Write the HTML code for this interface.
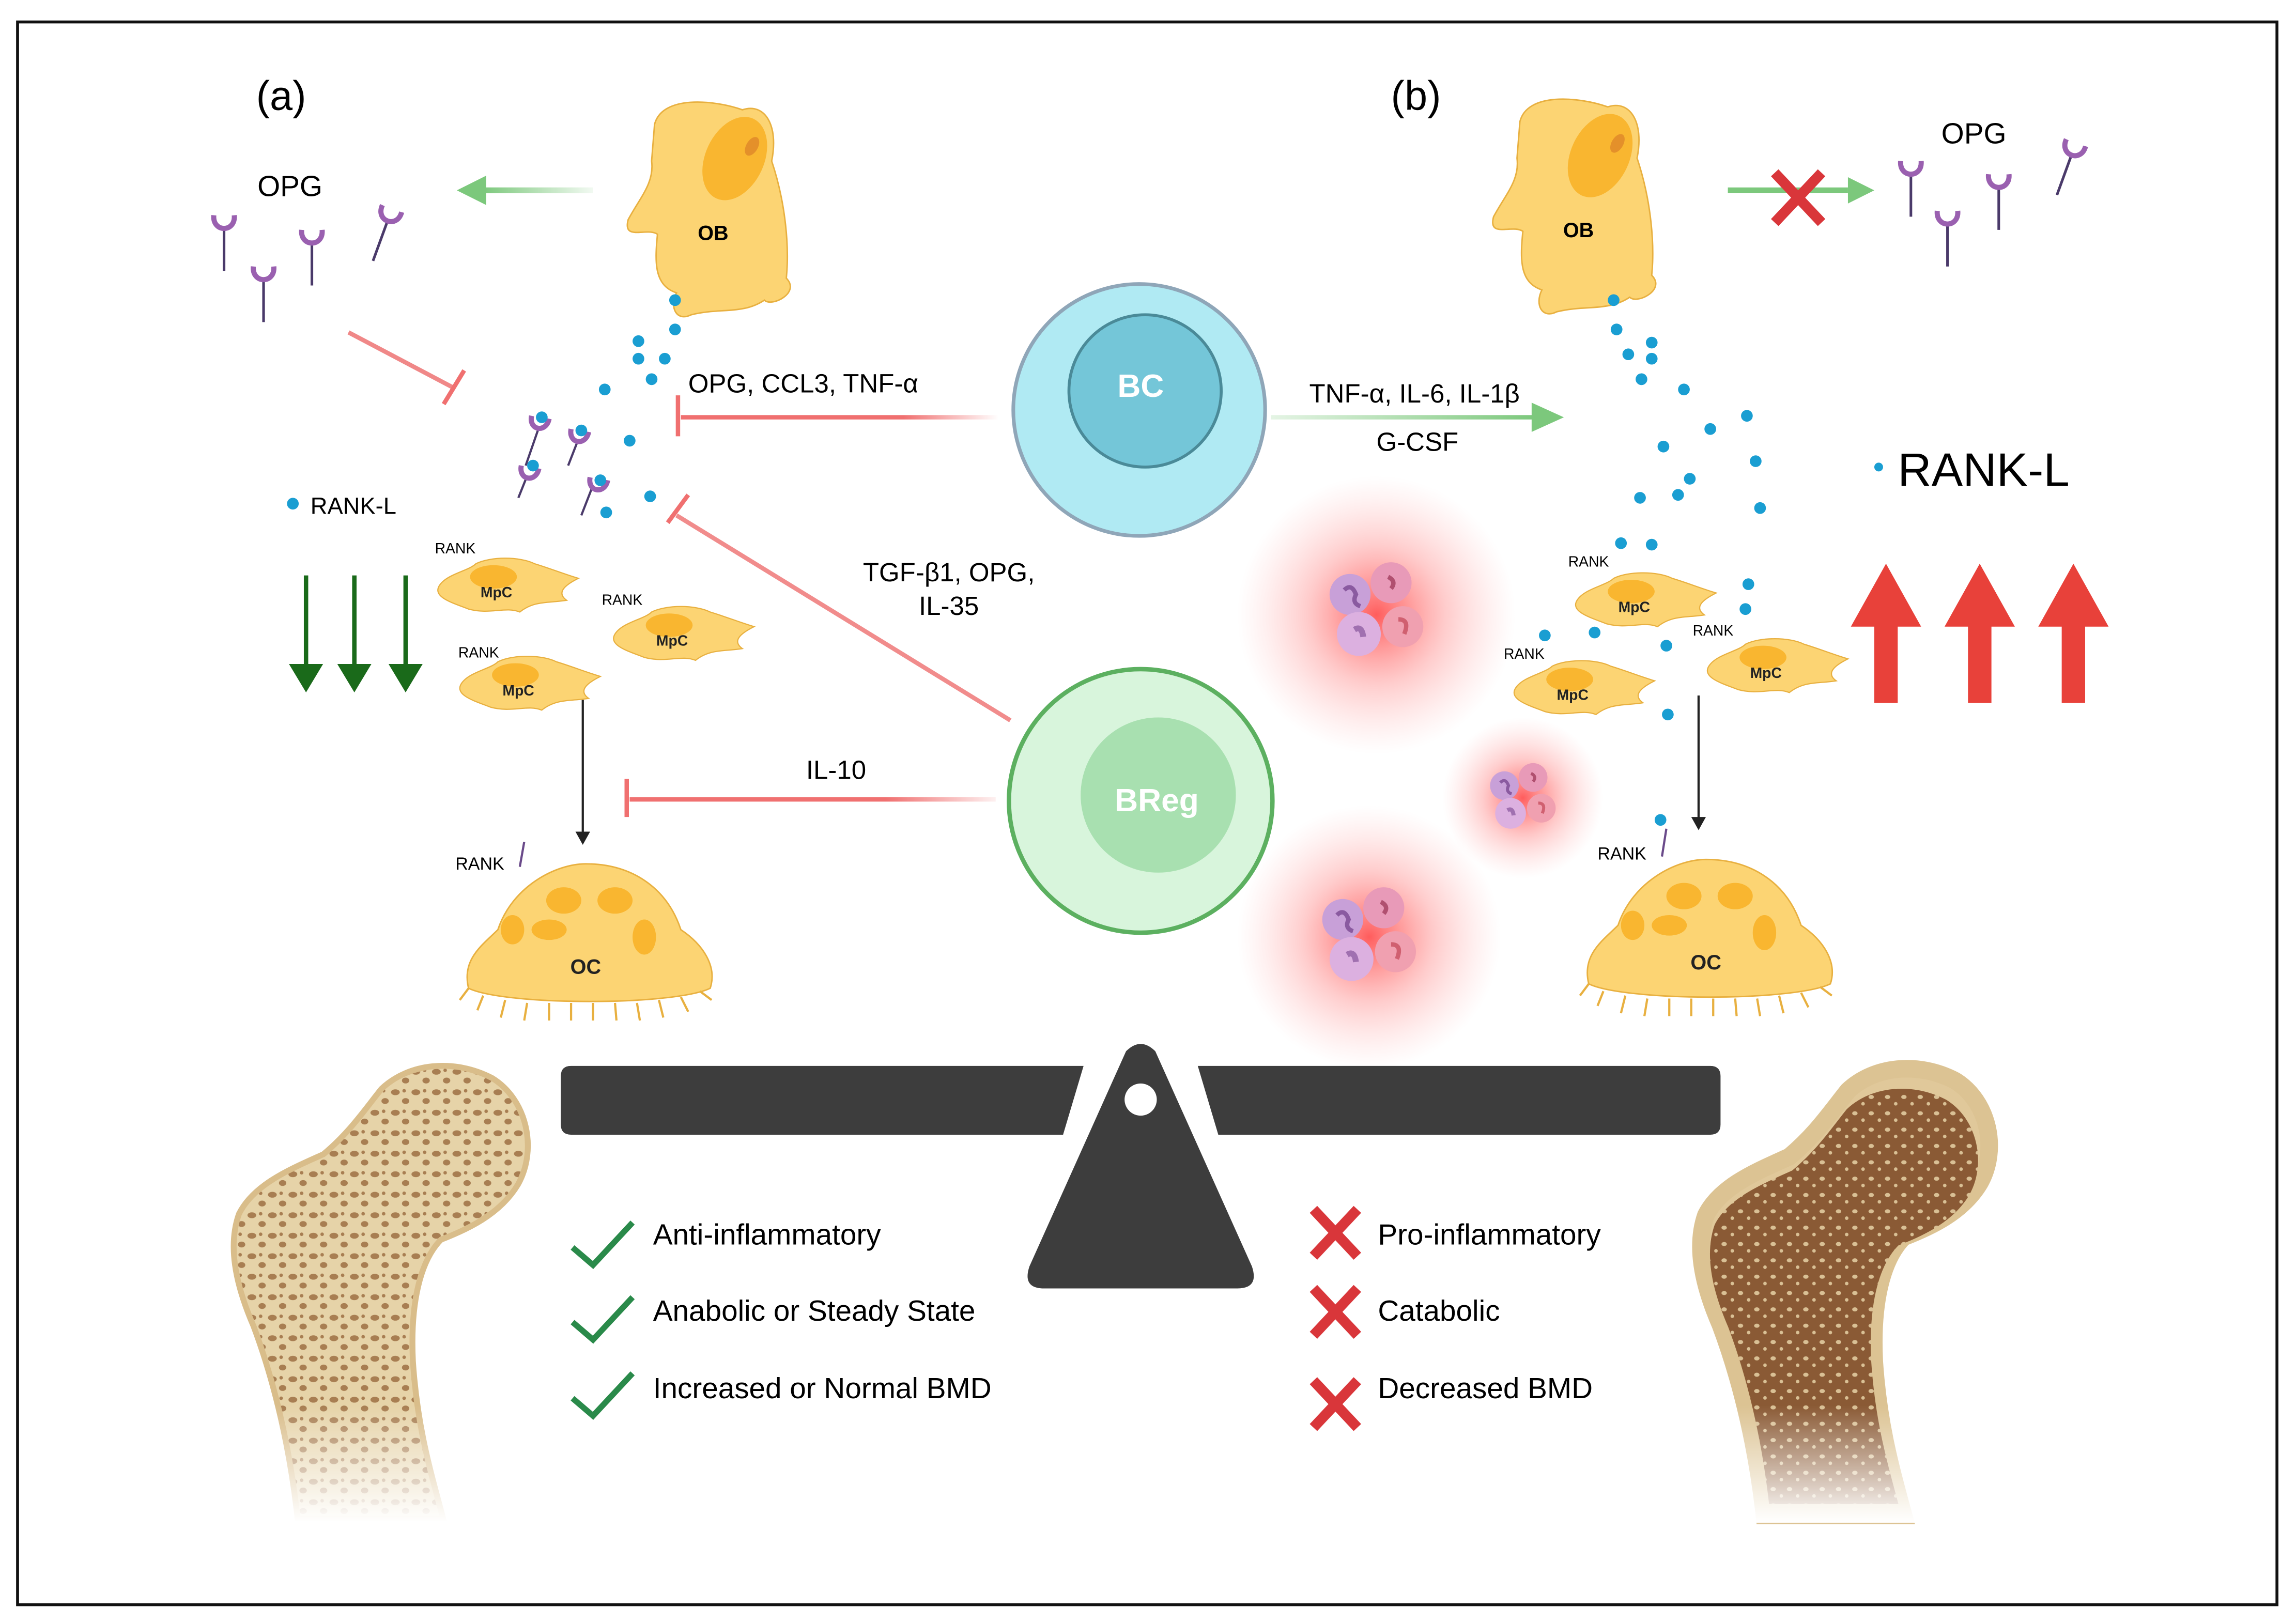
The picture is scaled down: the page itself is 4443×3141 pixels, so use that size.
<!DOCTYPE html>
<html><head><meta charset="utf-8"><style>
html,body{margin:0;padding:0;background:#fff}
svg{display:block}
text{font-family:"Liberation Sans",sans-serif}
</style></head><body>
<svg width="4443" height="3141" viewBox="0 0 1568 1108.5" xmlns="http://www.w3.org/2000/svg">
<defs>
<radialGradient id="glow"><stop offset="0" stop-color="#ff4040" stop-opacity="0.85"/><stop offset="0.5" stop-color="#ff8080" stop-opacity="0.4"/><stop offset="1" stop-color="#ffb0b0" stop-opacity="0"/></radialGradient>
<linearGradient id="redBC" gradientUnits="userSpaceOnUse" x1="465" y1="0" x2="682" y2="0"><stop offset="0" stop-color="#f07070"/><stop offset="0.7" stop-color="#f07070"/><stop offset="1" stop-color="#f07070" stop-opacity="0"/></linearGradient>
<linearGradient id="redIL" gradientUnits="userSpaceOnUse" x1="430" y1="0" x2="680" y2="0"><stop offset="0" stop-color="#f07070"/><stop offset="0.7" stop-color="#f07070"/><stop offset="1" stop-color="#f07070" stop-opacity="0.1"/></linearGradient>
<linearGradient id="grnOB" gradientUnits="userSpaceOnUse" x1="330" y1="0" x2="405" y2="0"><stop offset="0" stop-color="#7cc87c"/><stop offset="1" stop-color="#7cc87c" stop-opacity="0.1"/></linearGradient>
<linearGradient id="grnBC" gradientUnits="userSpaceOnUse" x1="868" y1="0" x2="1048" y2="0"><stop offset="0" stop-color="#7cc87c" stop-opacity="0.2"/><stop offset="1" stop-color="#7cc87c"/></linearGradient>
<linearGradient id="fade" x1="0" y1="0" x2="0" y2="1"><stop offset="0.75" stop-color="#fff" stop-opacity="0"/><stop offset="1" stop-color="#fff" stop-opacity="1"/></linearGradient>
<pattern id="spongeL" width="14" height="14" patternUnits="userSpaceOnUse"><rect width="14" height="14" fill="#e6d3a8"/><ellipse cx="4" cy="4" rx="3" ry="2" fill="#a87e52"/><ellipse cx="11" cy="10" rx="2.5" ry="2" fill="#a87e52"/><circle cx="10" cy="3" r="1.2" fill="#a87e52"/></pattern>
<pattern id="spongeR" width="12" height="12" patternUnits="userSpaceOnUse"><rect width="12" height="12" fill="#8a5a35"/><ellipse cx="4" cy="4" rx="2" ry="1.5" fill="#d9c095"/><circle cx="10" cy="9" r="1.3" fill="#d9c095"/></pattern>
<g id="ob"><path d="M-40,-55 C-35,-75 0,-72 20,-65 C35,-70 45,-55 40,-30 C50,0 52,30 50,50 C60,60 40,70 35,65 C20,75 5,70 -15,75 C-25,80 -30,70 -25,60 C-40,55 -40,40 -38,20 C-45,15 -62,25 -58,10 C-50,-5 -40,-15 -42,-30 Z" fill="#fcd473" stroke="#e8b040" stroke-width="1"/><ellipse cx="0" cy="-35" rx="20" ry="30" transform="rotate(25)" fill="#f9b630"/><ellipse cx="3" cy="-48" rx="4" ry="7" transform="rotate(30)" fill="#e4902a"/></g>
<g id="rec" fill="none"><path d="M0,0 L0,30" stroke="#4a3a6a" stroke-width="1.8"/><path d="M-7,-8 C-8,4 8,4 7,-8" stroke="#9a60b0" stroke-width="3.5"/></g>
<g id="mpc"><path d="M-45,0 C-40,-8 -25,-10 -20,-15 C-10,-20 10,-20 20,-15 C30,-12 40,-8 50,-5 C40,0 35,5 42,10 C30,12 20,10 10,18 C0,14 -10,20 -25,16 C-35,12 -50,8 -45,0 Z" fill="#fcd473" stroke="#e8b040" stroke-width="0.8"/><ellipse cx="-8" cy="-6" rx="16" ry="8" fill="#f9b630"/><text x="-6" y="8" font-size="10" font-weight="bold" text-anchor="middle" fill="#222">MpC</text></g>
<g id="oc"><path d="M-80,40 C-85,20 -70,10 -60,0 C-50,-30 -20,-45 0,-45 C30,-45 55,-30 65,0 C80,10 90,25 85,40 C60,52 -55,52 -80,40 Z" fill="#fcd473" stroke="#e8b040" stroke-width="1"/><g stroke="#e8b040" stroke-width="1.5" fill="none"><path d="M-80,40 l-6,8 M-70,45 l-4,10 M-55,48 l-3,12 M-40,50 l-2,12 M-25,50 l0,12 M-10,50 l0,12 M5,50 l0,12 M20,50 l1,12 M35,50 l2,12 M50,48 l3,12 M65,46 l5,10 M78,42 l8,6"/></g><ellipse cx="-50" cy="0" rx="8" ry="10" fill="#f9b630"/><ellipse cx="-15" cy="-20" rx="12" ry="9" fill="#f9b630"/><ellipse cx="20" cy="-20" rx="12" ry="9" fill="#f9b630"/><ellipse cx="-25" cy="0" rx="12" ry="7" fill="#f9b630"/><ellipse cx="40" cy="5" rx="8" ry="12" fill="#f9b630"/><text x="0" y="30" font-size="14" font-weight="bold" text-anchor="middle" fill="#222">OC</text></g>
<g id="cells"><circle cx="-18" cy="-12" r="14" fill="#c8a0d8"/><circle cx="10" cy="-20" r="14" fill="#e89ab8"/><circle cx="-12" cy="15" r="15" fill="#dcb0e0"/><circle cx="18" cy="10" r="14" fill="#f0a0b0"/><path d="M-22,-15 q5,-5 8,3 q-3,6 3,8" stroke="#8a5aa0" stroke-width="3" fill="none"/><path d="M8,-24 q6,3 2,8" stroke="#b05070" stroke-width="3" fill="none"/><path d="M-15,12 q5,-3 6,5" stroke="#a070b0" stroke-width="4" fill="none"/><path d="M15,5 q8,0 4,10" stroke="#d06070" stroke-width="3" fill="none"/></g>
<path id="femurPath" d="M205,1035 C200,990 190,945 175,905 C162,875 158,850 165,830 C175,810 200,800 222,790 C240,775 250,760 262,745 C280,728 310,725 335,738 C358,752 365,785 352,808 C340,828 318,838 300,845 C285,860 278,890 280,930 C283,975 292,1005 300,1035 Z"/>
</defs>
<rect width="1568" height="1108.5" fill="#fff"/>
<rect x="12" y="15" width="1543" height="1081" fill="none" stroke="#111" stroke-width="2"/>
<text x="192" y="75" font-size="28" text-anchor="middle">(a)</text>
<text x="967" y="75" font-size="28" text-anchor="middle">(b)</text>

<!-- glows -->
<circle cx="940" cy="420" r="95" fill="url(#glow)"/>
<circle cx="1040" cy="545" r="55" fill="url(#glow)"/>
<circle cx="935" cy="640" r="90" fill="url(#glow)"/>
<use href="#cells" x="940" y="418"/>
<g transform="translate(1040 545) scale(0.7)"><use href="#cells"/></g>
<use href="#cells" x="935" y="640"/>

<!-- Left panel -->
<use href="#ob" x="487" y="140"/>
<text x="487" y="164" font-size="14" font-weight="bold" text-anchor="middle">OB</text>
<rect x="330" y="128" width="75" height="4" fill="url(#grnOB)"/>
<path d="M312,130 L332,120 L332,140 Z" fill="#7cc87c"/>
<text x="198" y="134" font-size="20" text-anchor="middle">OPG</text>
<use href="#rec" x="153" y="155"/><use href="#rec" x="180" y="190"/><use href="#rec" x="213" y="165"/><g transform="translate(265 150) rotate(20)"><use href="#rec"/></g>
<path d="M238,227 L310,265" stroke="#f08888" stroke-width="3"/><path d="M303,276 L317,253" stroke="#f07070" stroke-width="3"/>
<g fill="#1a9ed2"><circle cx="461" cy="205" r="4"/><circle cx="461" cy="225" r="4"/><circle cx="436" cy="233" r="4"/><circle cx="436" cy="245" r="4"/><circle cx="454" cy="245" r="4"/><circle cx="445" cy="259" r="4"/><circle cx="413" cy="266" r="4"/><circle cx="430" cy="301" r="4"/><circle cx="444" cy="339" r="4"/><circle cx="414" cy="350" r="4"/><circle cx="200" cy="344" r="4"/></g>
<g stroke="#4a3a6a" stroke-width="1.5"><path d="M368,292 L359,318"/><path d="M395,300 L388,318"/><path d="M360,325 L354,340"/><path d="M404,334 L397,352"/></g>
<g fill="none" stroke="#9a60b0" stroke-width="3.5"><path d="M363,284 c-2,10 10,12 12,2"/><path d="M390,293 c-2,10 10,12 12,2"/><path d="M356,318 c-2,10 10,12 12,2"/><path d="M403,326 c-2,10 10,12 12,2"/></g>
<g fill="#1a9ed2"><circle cx="370" cy="285" r="4"/><circle cx="397" cy="294" r="4"/><circle cx="364" cy="318" r="4"/><circle cx="410" cy="328" r="4"/></g>
<text x="212" y="351" font-size="16">RANK-L</text>
<text x="470" y="268" font-size="18">OPG, CCL3, TNF-α</text>
<rect x="465" y="283.5" width="217" height="3" fill="url(#redBC)"/>
<path d="M463,270 L463,298" stroke="#f07070" stroke-width="3"/>
<path d="M690,492 L462,352" stroke="#f08080" stroke-width="3" opacity="0.9"/>
<path d="M456,357 L470,338" stroke="#f07070" stroke-width="3"/>
<text x="648" y="397" font-size="18" text-anchor="middle">TGF-β1, OPG,</text>
<text x="648" y="420" font-size="18" text-anchor="middle">IL-35</text>
<text x="571" y="532" font-size="18" text-anchor="middle">IL-10</text>
<rect x="430" y="544.5" width="250" height="3" fill="url(#redIL)"/>
<path d="M428,532 L428,558" stroke="#f07070" stroke-width="3"/>
<g stroke="#1a6a1a" stroke-width="3" fill="#1a6a1a"><path d="M209,393 L209,458"/><path d="M200,455 L209,470 L218,455 Z"/><path d="M242,393 L242,458"/><path d="M233,455 L242,470 L251,455 Z"/><path d="M277,393 L277,458"/><path d="M268,455 L277,470 L286,455 Z"/></g>
<use href="#mpc" x="345" y="400"/><use href="#mpc" x="465" y="433"/><use href="#mpc" x="360" y="467"/>
<text x="297" y="378" font-size="10">RANK</text><text x="411" y="413" font-size="10">RANK</text><text x="313" y="449" font-size="10">RANK</text>
<path d="M398,478 L398,570" stroke="#222" stroke-width="1.5"/><path d="M393,568 L398,577 L403,568 Z" fill="#222"/>
<use href="#oc" x="400" y="635"/>
<text x="311" y="594" font-size="12">RANK</text>
<path d="M358,575 L355,592" stroke="#6a4a8a" stroke-width="1.5"/>

<!-- center circles -->
<circle cx="778" cy="280" r="86" fill="#b0eaf3" stroke="#8fa6b8" stroke-width="2.5"/>
<circle cx="782" cy="267" r="52" fill="#74c6d8" stroke="#4a8a98" stroke-width="2"/>
<text x="779" y="271" font-size="22" font-weight="bold" fill="#fff" text-anchor="middle">BC</text>
<circle cx="779" cy="547" r="90" fill="#d8f5dc" stroke="#5cb060" stroke-width="3"/>
<circle cx="791" cy="543" r="53" fill="#a8e0b0"/>
<text x="790" y="554" font-size="22" font-weight="bold" fill="#fff" text-anchor="middle">BReg</text>

<!-- right panel -->
<text x="966" y="275" font-size="18" text-anchor="middle">TNF-α, IL-6, IL-1β</text>
<text x="968" y="308" font-size="18" text-anchor="middle">G-CSF</text>
<rect x="868" y="283.5" width="180" height="3" fill="url(#grnBC)"/>
<path d="M1068,285 L1046,275 L1046,295 Z" fill="#7cc87c"/>
<use href="#ob" x="1078" y="138"/>
<text x="1078" y="162" font-size="14" font-weight="bold" text-anchor="middle">OB</text>
<path d="M1180,130 L1262,130" stroke="#7cc87c" stroke-width="4"/><path d="M1280,130 L1262,121 L1262,139 Z" fill="#7cc87c"/>
<path d="M1212,118 L1244,152 M1244,118 L1212,152" stroke="#d9363a" stroke-width="7"/>
<text x="1348" y="98" font-size="20" text-anchor="middle">OPG</text>
<use href="#rec" x="1305" y="118"/><use href="#rec" x="1330" y="152"/><use href="#rec" x="1365" y="127"/><g transform="translate(1415 105) rotate(20)"><use href="#rec"/></g>
<g fill="#1a9ed2"><circle cx="1102" cy="205" r="4"/><circle cx="1104" cy="225" r="4"/><circle cx="1112" cy="242" r="4"/><circle cx="1128" cy="234" r="4"/><circle cx="1128" cy="245" r="4"/><circle cx="1121" cy="259" r="4"/><circle cx="1150" cy="266" r="4"/><circle cx="1168" cy="293" r="4"/><circle cx="1193" cy="284" r="4"/><circle cx="1136" cy="305" r="4"/><circle cx="1154" cy="327" r="4"/><circle cx="1199" cy="315" r="4"/><circle cx="1120" cy="340" r="4"/><circle cx="1146" cy="338" r="4"/><circle cx="1202" cy="347" r="4"/><circle cx="1107" cy="371" r="4"/><circle cx="1128" cy="372" r="4"/><circle cx="1194" cy="399" r="4"/><circle cx="1192" cy="416" r="4"/><circle cx="1089" cy="432" r="4"/><circle cx="1138" cy="441" r="4"/><circle cx="1139" cy="488" r="4"/><circle cx="1055" cy="434" r="4"/><circle cx="1134" cy="560" r="4"/><circle cx="1283" cy="319" r="3"/></g>
<text x="1296" y="332" font-size="32">RANK-L</text>
<g fill="#e8413a"><path d="M1288,385 L1312,428 L1296,428 L1296,480 L1280,480 L1280,428 L1264,428 Z"/><path d="M1352,385 L1376,428 L1360,428 L1360,480 L1344,480 L1344,428 L1328,428 Z"/><path d="M1416,385 L1440,428 L1424,428 L1424,480 L1408,480 L1408,428 L1392,428 Z"/></g>
<use href="#mpc" x="1122" y="410"/><use href="#mpc" x="1080" y="470"/><use href="#mpc" x="1212" y="455"/>
<text x="1071" y="387" font-size="10">RANK</text><text x="1027" y="450" font-size="10">RANK</text><text x="1156" y="434" font-size="10">RANK</text>
<path d="M1160,475 L1160,560" stroke="#222" stroke-width="1.5"/><path d="M1155,558 L1160,567 L1165,558 Z" fill="#222"/>
<use href="#oc" x="1165" y="632"/>
<text x="1091" y="587" font-size="12">RANK</text>
<path d="M1138,566 L1135,585" stroke="#6a4a8a" stroke-width="1.5"/>

<!-- scale -->
<path d="M390,728 L740,728 L726,775 L390,775 Q383,775 383,768 L383,735 Q383,728 390,728 Z" fill="#3d3d3d"/>
<path d="M818,728 L1168,728 Q1175,728 1175,735 L1175,768 Q1175,775 1168,775 L832,775 Z" fill="#3d3d3d"/>
<path d="M769,718 Q779,708 789,718 L855,865 Q860,880 845,880 L713,880 Q698,880 703,865 Z" fill="#3d3d3d"/>
<circle cx="779" cy="751" r="11" fill="#fff"/>

<!-- lists -->
<g stroke="#2a8a4a" stroke-width="4" fill="none"><path d="M391,852 L405,864 L432,835"/><path d="M391,903 L405,915 L432,886"/><path d="M391,955 L405,967 L432,938"/></g>
<text x="446" y="850" font-size="20">Anti-inflammatory</text>
<text x="446" y="902" font-size="20">Anabolic or Steady State</text>
<text x="446" y="955" font-size="20">Increased or Normal BMD</text>
<g stroke="#d9363a" stroke-width="7"><path d="M897,826 L927,858 M927,826 L897,858"/><path d="M897,880 L927,912 M927,880 L897,912"/><path d="M897,943 L927,975 M927,943 L897,975"/></g>
<text x="941" y="850" font-size="20">Pro-inflammatory</text>
<text x="941" y="902" font-size="20">Catabolic</text>
<text x="941" y="955" font-size="20">Decreased BMD</text>

<!-- femurs -->
<g>
<use href="#femurPath" fill="#e0c89a" stroke="#d9bd8a" stroke-width="8"/>
<use href="#femurPath" fill="url(#spongeL)"/>
<rect x="150" y="720" width="220" height="320" fill="url(#fade)"/>
</g>
<g transform="translate(1000 0)">
<use href="#femurPath" fill="#e0c89a" stroke="#dcc393" stroke-width="12"/>
<use href="#femurPath" fill="url(#spongeR)" transform="translate(250 925) scale(0.93) translate(-250 -925)"/>
<rect x="150" y="720" width="220" height="320" fill="url(#fade)"/>
</g>
</svg>
</body></html>
